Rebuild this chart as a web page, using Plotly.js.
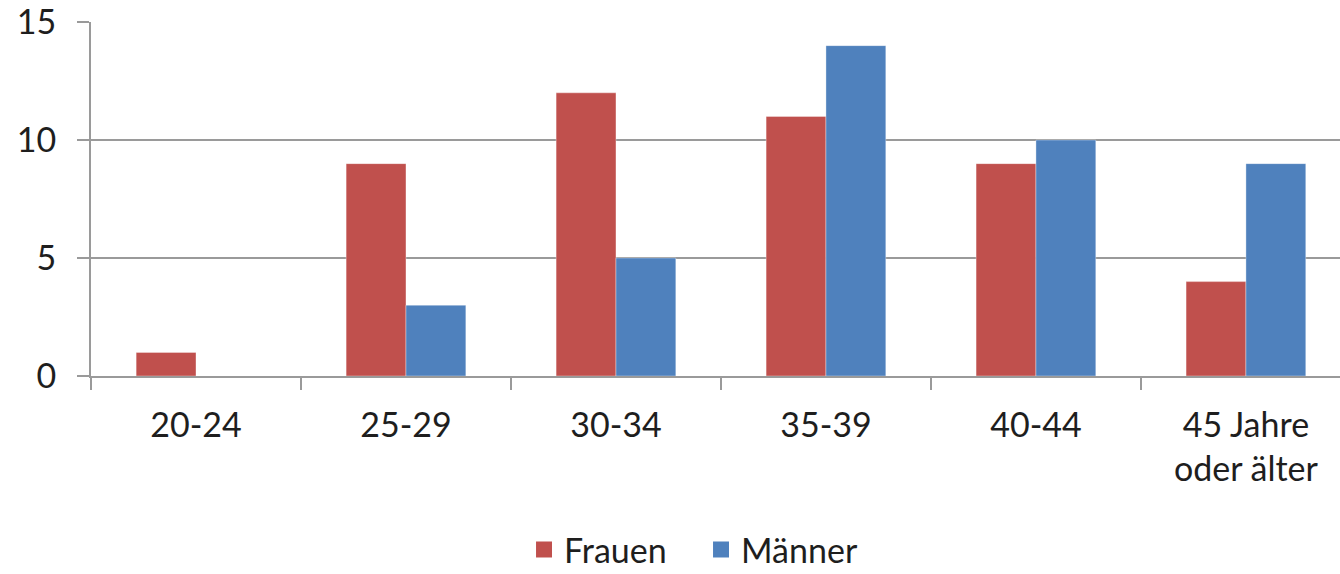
<!DOCTYPE html>
<html>
<head>
<meta charset="utf-8">
<script src="https://cdn.plot.ly/plotly-3.0.1.min.js"></script>
<style>html,body{margin:0;padding:0;background:#fff;}#chart{width:1340px;height:574px;}</style>
</head>
<body>
<div id="chart"></div>
<script>
var categories = ["20-24", "25-29", "30-34", "35-39", "40-44", "45 Jahre<br>oder älter"];
var frauen = [1, 9, 12, 11, 9, 4];
var maenner = [0, 3, 5, 14, 10, 9];
var seriesNames = ["Frauen", "Männer"];
var colors = ["#C0504D", "#4F81BD"];
var yTicks = [0, 5, 10, 15];

var font = {family: "Lato, 'Open Sans', sans-serif", size: 34, color: "#1e1e1e"};
var legendFont = {family: "Lato, 'Open Sans', sans-serif", size: 34, color: "#1e1e1e"};

var traces = [
  {type: "bar", x: categories, y: frauen, name: seriesNames[0], showlegend: false,
   marker: {color: colors[0], line: {color: "rgba(255,255,255,0.35)", width: 1}}, hoverinfo: "skip"},
  {type: "bar", x: categories, y: maenner, name: seriesNames[1], showlegend: false,
   marker: {color: colors[1], line: {color: "rgba(255,255,255,0.35)", width: 1}}, hoverinfo: "skip"},
  {type: "scatter", mode: "markers", x: [null], y: [null], name: seriesNames[0],
   marker: {symbol: "square", size: 16, color: colors[0]}},
  {type: "scatter", mode: "markers", x: [null], y: [null], name: seriesNames[1],
   marker: {symbol: "square", size: 16, color: colors[1]}}
];

var layout = {
  width: 1340, height: 574,
  margin: {l: 91, r: 0, t: 22, b: 198, pad: 0, autoexpand: false},
  paper_bgcolor: "#fff", plot_bgcolor: "#fff",
  font: font,
  barmode: "group",
  bargap: 0.43,
  bargroupgap: 0,
  showlegend: true,
  legend: {orientation: "h", xref: "paper", x: 0.3467, xanchor: "left",
           yref: "container", y: 0.042, yanchor: "middle",
           font: legendFont, itemwidth: 30, traceorder: "normal",
           entrywidth: 132, entrywidthmode: "pixels"},
  xaxis: {
    type: "category",
    range: [-0.5, 5.448],
    showline: true, linecolor: "#9a9a9a", linewidth: 2,
    ticks: "outside", tickson: "boundaries", ticklen: 12, tickwidth: 2, tickcolor: "#9a9a9a",
    showgrid: false, zeroline: false,
    ticklabelstandoff: 18,
    ticklabeloverflow: "allow",
    tickfont: font,
    fixedrange: true
  },
  yaxis: {
    range: [0, 15.002],
    tickvals: yTicks,
    ticktext: yTicks.map(String),
    showline: true, linecolor: "#9a9a9a", linewidth: 2,
    ticks: "outside", ticklen: 12, tickwidth: 2, tickcolor: "#9a9a9a",
    showgrid: true, gridcolor: "#9a9a9a", gridwidth: 2,
    zeroline: false,
    ticklabelstandoff: 14,
    ticklabeloverflow: "allow",
    tickfont: font,
    fixedrange: true
  }
};

Plotly.newPlot("chart", traces, layout, {staticPlot: true, displayModeBar: false});
</script>
</body>
</html>
